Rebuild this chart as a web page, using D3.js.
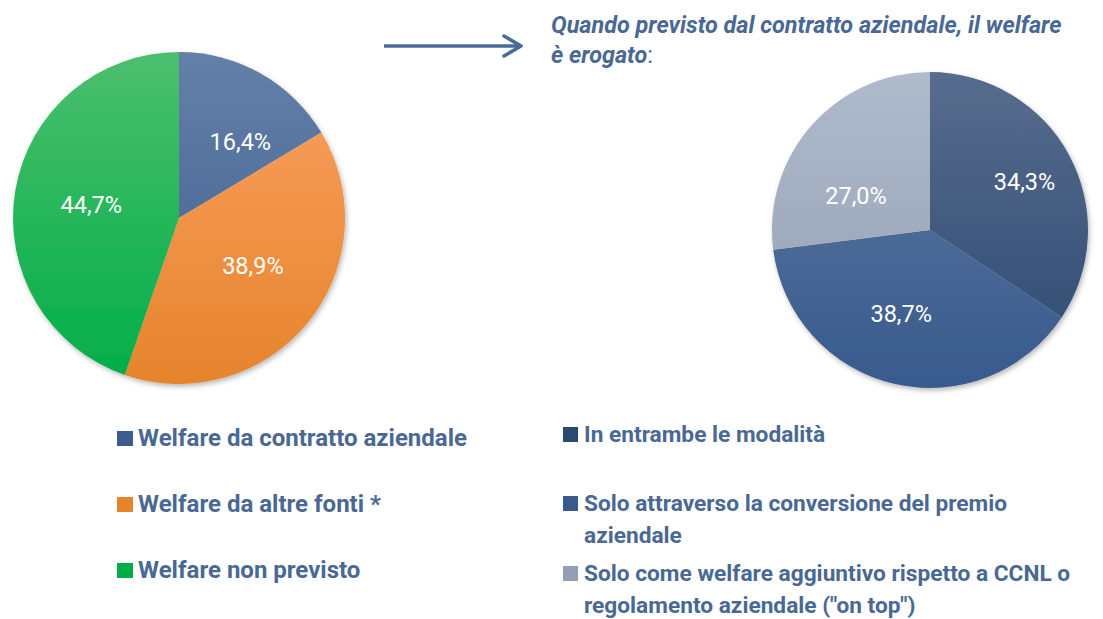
<!DOCTYPE html>
<html>
<head>
<meta charset="utf-8">
<script src="https://cdn.jsdelivr.net/npm/d3@7"></script>
<style>
  body { margin: 0; background: #fff; }
  text { font-family: Roboto, "Noto Sans", sans-serif; }
</style>
</head>
<body>
<div id="chart"></div>
<script>
const W = 1103, H = 619;

// Dati
const leftLabels = ["Welfare da contratto aziendale", "Welfare da altre fonti *", "Welfare non previsto"];
const leftValues = [16.4, 38.9, 44.7];
const rightLabels = [
  ["In entrambe le modalità"],
  ["Solo attraverso la conversione del premio", "aziendale"],
  ["Solo come welfare aggiuntivo rispetto a CCNL o", "regolamento aziendale (\"on top\")"]
];
const rightValues = [34.3, 38.7, 27.0];

const leftColors = [["#6480A8", "#3B5D8D"], ["#FAA264", "#E6842C"], ["#4CBF6E", "#00AE47"]];
const rightColors = [["#586C8E", "#2C4970"], ["#5E7AA3", "#385A8C"], ["#AFBACB", "#939FB3"]];
const textColor = "#4A6894";

// spostamenti delle etichette rispetto al centroide
const leftNudge = [[17, 2], [4, -9], [1, 1]];
const rightNudge = [[10, -3], [-7, -10], [-2, 29]];

const svg = d3.select("#chart")
  .append("svg")
  .attr("width", W)
  .attr("height", H);

const defs = svg.append("defs");
defs.append("filter")
  .attr("id", "shadow")
  .attr("x", "-10%").attr("y", "-10%").attr("width", "120%").attr("height", "120%")
  .append("feDropShadow")
  .attr("dx", 1.5).attr("dy", 2.5).attr("stdDeviation", 2.5)
  .attr("flood-color", "#000").attr("flood-opacity", 0.28);

const fmt = v => v.toFixed(1).replace(".", ",") + "%";

function drawPie(id, cx, cy, r, values, colors, labelR, nudge) {
  const g = svg.append("g").attr("transform", `translate(${cx},${cy})`);

  colors.forEach((c, i) => {
    const grad = defs.append("linearGradient")
      .attr("id", `${id}-g${i}`)
      .attr("gradientUnits", "userSpaceOnUse")
      .attr("x1", 0).attr("y1", -r).attr("x2", 0).attr("y2", r);
    grad.append("stop").attr("offset", "0%").attr("stop-color", c[0]);
    grad.append("stop").attr("offset", "100%").attr("stop-color", c[1]);
  });

  const pie = d3.pie().sort(null).value(d => d);
  const arc = d3.arc().innerRadius(0).outerRadius(r);
  const labelArc = d3.arc().innerRadius(labelR).outerRadius(labelR);
  const arcs = pie(values);

  const slices = g.append("g").attr("filter", "url(#shadow)");
  slices.selectAll("path")
    .data(arcs)
    .enter().append("path")
    .attr("d", arc)
    .attr("fill", (d, i) => `url(#${id}-g${i})`);

  g.selectAll(".lbl")
    .data(arcs)
    .enter().append("text")
    .attr("class", "lbl")
    .attr("transform", (d, i) => {
      const c = labelArc.centroid(d);
      return `translate(${c[0] + nudge[i][0]},${c[1] + nudge[i][1]})`;
    })
    .attr("text-anchor", "middle")
    .attr("dy", "0.36em")
    .attr("fill", "#fff")
    .style("font-size", "23.5px")
    .text(d => fmt(d.data));
}

drawPie("p1", 179, 218, 166, leftValues, leftColors, 90, leftNudge);
drawPie("p2", 930, 230, 158, rightValues, rightColors, 96, rightNudge);

// Freccia
svg.append("line")
  .attr("x1", 384).attr("y1", 46).attr("x2", 521).attr("y2", 46)
  .attr("stroke", "#4A6A98").attr("stroke-width", 3.5);
svg.append("path")
  .attr("d", "M504,36 L521,46 L504,56")
  .attr("fill", "none")
  .attr("stroke", "#4A6A98").attr("stroke-width", 3.5)
  .attr("stroke-linecap", "round").attr("stroke-linejoin", "round");

// Titolo
svg.append("text")
  .attr("x", 551).attr("y", 33)
  .attr("fill", textColor)
  .style("font-size", "23.4px")
  .style("font-weight", "bold")
  .style("font-style", "italic")
  .text("Quando previsto dal contratto aziendale, il welfare");
const t2 = svg.append("text")
  .attr("x", 551).attr("y", 63)
  .attr("fill", textColor)
  .style("font-size", "23.4px")
  .style("font-weight", "bold");
t2.append("tspan").style("font-style", "italic").text("è erogato");
t2.append("tspan").style("font-weight", "normal").text(":");

// Legenda sinistra
const leftRowsY = [438, 504, 570];
leftLabels.forEach((lab, i) => {
  svg.append("rect")
    .attr("x", 117).attr("y", leftRowsY[i] - 7).attr("width", 16).attr("height", 15)
    .attr("fill", leftColors[i][1]);
  svg.append("text")
    .attr("x", 138).attr("y", leftRowsY[i] + 8)
    .attr("fill", textColor)
    .style("font-size", "24px")
    .style("font-weight", "bold")
    .text(lab);
});

// Legenda destra
const rightRowsY = [434, 503, 573];
rightLabels.forEach((lines, i) => {
  svg.append("rect")
    .attr("x", 563).attr("y", rightRowsY[i] - 7).attr("width", 15).attr("height", 15)
    .attr("fill", rightColors[i][1]);
  lines.forEach((ln, j) => {
    svg.append("text")
      .attr("x", 584).attr("y", rightRowsY[i] + 8 + j * 32)
      .attr("fill", textColor)
      .style("font-size", "22.7px")
      .style("font-weight", "bold")
      .text(ln);
  });
});
</script>
</body>
</html>
